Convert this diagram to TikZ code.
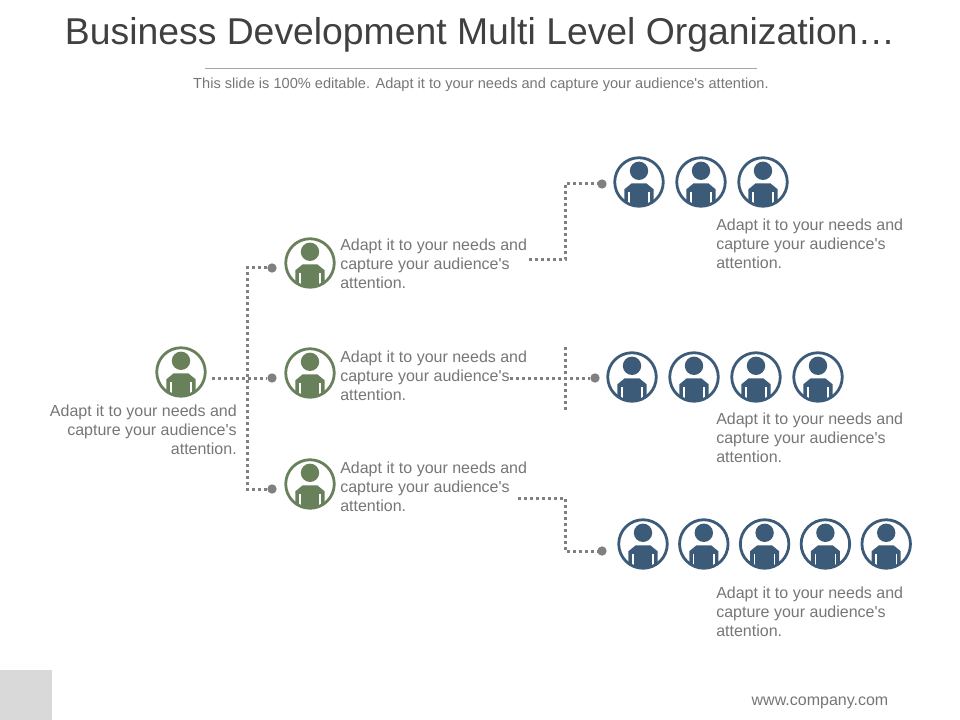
\documentclass[tikz,border=0pt]{standalone}
\usepackage{fontspec}
\setmainfont{Liberation Sans}
\definecolor{dg}{HTML}{68815A}
\definecolor{db}{HTML}{3C5B78}
\definecolor{dots}{HTML}{808080}
\definecolor{txt}{HTML}{767676}
\tikzset{
    person/.style = {circle,
                    fill=white,
                    draw=#1,
                    line width=2.1pt,
                    inner sep=0pt,
                    minimum size=36.4pt,
                    path picture={
                        \fill[#1] ([yshift=8.4pt]path picture bounding box.center) circle (6.9pt);
                        \fill[#1] ([xshift=-5.5pt,yshift=-1pt]path picture bounding box.center)
                            -- ++(11pt,0) -- ++(5.4pt,-4.4pt) -- ++(0,-16pt) -- ++(-21.8pt,0) -- ++(0,16pt) -- cycle;
                        \draw[white,line width=1.1pt] ([xshift=-7.6pt,yshift=-7.5pt]path picture bounding box.center) -- ++(0,-14pt);
                        \draw[white,line width=1.1pt] ([xshift=7.6pt,yshift=-7.5pt]path picture bounding box.center) -- ++(0,-14pt);
                    }},
    green/.style =  {person=dg},
    blue/.style =   {person=db},
    dot/.style =    {circle,
                    fill=dots,
                    inner sep=0pt,
                    minimum size=7pt},
    link/.style =   {draw=dots,
                    line width=2.25pt,
                    dash pattern=on 2.25pt off 2.25pt},
    note/.style =   {text=txt,
                    inner sep=0pt,
                    font=\fontsize{12}{14.25}\selectfont},
    node distance=46.5pt,
    x=0.75pt,
    y=-0.75pt}
\newcommand{\blurb}{Adapt it to your needs and\\capture your audience\textquotesingle s\\attention.}
\begin{document}
\begin{tikzpicture}
    \useasboundingbox (0,0) rectangle (960,720);
    % slide head and foot
    \node[text=black!75,inner sep=0pt,font=\fontsize{28}{33}\selectfont] (title) at (480,35) {Business Development Multi Level Organization…};
    \node[text=txt,inner sep=0pt,font=\fontsize{10.95}{13}\selectfont] (sub) at (481,85) {This slide is 100\% editable. Adapt it to your needs and capture your audience\textquotesingle s attention.};
    \coordinate (ruleL) at (205,68);
    \coordinate (ruleR) at (757,68);
    \draw[black!35,line width=0.5pt] (ruleL) -- (ruleR);
    \node[fill=black!15,inner sep=0pt,minimum width=39pt,minimum height=37.5pt,anchor=south west] (tab) at (0,720) {};
    \node[text=txt,inner sep=0pt,font=\fontsize{12}{14}\selectfont] (web) at (820,703) {www.company.com};
    % people
    \node[green] (lead) at (181,372) {};
    \node[green] (mgrA) at (310,263) {};
    \node[green] (mgrB) at (310,373) {};
    \node[green] (mgrC) at (310,484) {};
    \node[blue]  (a1) at (639,182) {};
    \node[blue]  (a2) [right of=a1] {};
    \node[blue]  (a3) [right of=a2] {};
    \node[blue]  (b1) at (632,377) {};
    \node[blue]  (b2) [right of=b1] {};
    \node[blue]  (b3) [right of=b2] {};
    \node[blue]  (b4) [right of=b3] {};
    \begin{scope}[node distance=45.6pt]
        \node[blue]  (c1) at (643,544) {};
        \node[blue]  (c2) [right of=c1] {};
        \node[blue]  (c3) [right of=c2] {};
        \node[blue]  (c4) [right of=c3] {};
        \node[blue]  (c5) [right of=c4] {};
    \end{scope}
    % labels
    \node[note,align=right,anchor=east] (leadT) at (237,430) {\blurb};
    \node[note,align=left,anchor=west]  (mgrAT) at (340,264) {\blurb};
    \node[note,align=left,anchor=west]  (mgrBT) at (340,376) {\blurb};
    \node[note,align=left,anchor=west]  (mgrCT) at (340,487) {\blurb};
    \node[note,align=left,anchor=west]  (aT) at (716,244) {\blurb};
    \node[note,align=left,anchor=west]  (bT) at (716,438) {\blurb};
    \node[note,align=left,anchor=west]  (cT) at (716,612) {\blurb};
    % connectors
    \node[dot] (dA) at (272,268) {};
    \node[dot] (dB) at (272,378) {};
    \node[dot] (dC) at (272,489) {};
    \node[dot] (dD) at (602,184) {};
    \node[dot] (dE) at (595,378) {};
    \node[dot] (dF) at (602,551) {};
    \coordinate (s0) at (212,378);
    \coordinate (s1) at (529,260);
    \coordinate (s2) at (510,378);
    \coordinate (s3) at (518,498);
    \coordinate (v1) at (565,347);
    \coordinate (v2) at (565,412);
    \draw[link] (s0) -- (dB);
    \draw[link] (dA) -- (247,268) -- (247,489) -- (dC);
    \draw[link] (s1) -- (565,260) -- (565,184) -- (dD);
    \draw[link] (s2) -- (dE);
    \draw[link] (v1) -- (v2);
    \draw[link] (s3) -- (565,498) -- (565,551) -- (dF);
\end{tikzpicture}
\end{document}
